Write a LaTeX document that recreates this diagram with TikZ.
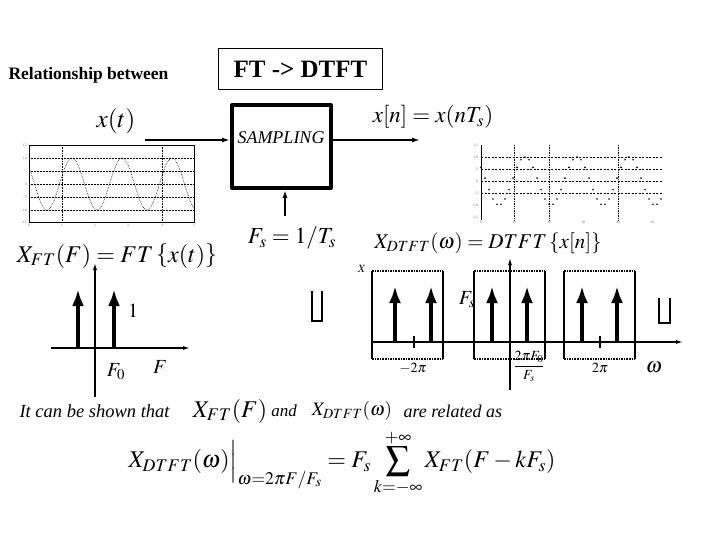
\documentclass[tikz,border=0pt]{standalone}
\usepackage{amsmath}
\usepackage{mathptmx}
\usepackage{fontspec}
\setmainfont{Liberation Serif}
\usetikzlibrary{arrows.meta}

\tikzset{
  bigmath/.style={font=\fontsize{23}{25}\selectfont},
  notetext/.style={font=\itshape\fontsize{17}{19}\selectfont},
  impulse/.style={line width=3.6pt,-{Latex[length=17pt,width=12pt]}},
  axisarrow/.style={line width=1.2pt,-{Latex[length=7pt,width=4pt]}},
  flow/.style={line width=1.8pt,-{Latex[length=8pt,width=5pt]}},
  ticklbl/.style={font=\fontsize{3.5}{4}\selectfont,text=black!60,inner sep=0pt},
  cupsym/.style={line width=2.4pt,line cap=butt,line join=miter}
}

\begin{document}
\begin{tikzpicture}[x=1pt,y=-1pt,line join=round]
  \useasboundingbox (0,0) rectangle (720,540);
  \node[anchor=west,font=\bfseries\fontsize{17.5}{19}\selectfont] (rel) at (5,75) {Relationship between};
  \node[draw,line width=1.3pt,minimum width=164pt,minimum height=41pt,font=\bfseries\fontsize{25}{27}\selectfont] (ttl) at (300.5,69) {FT -> DTFT};
  \node[draw,line width=4pt,minimum width=99pt,minimum height=83pt] (samp) at (281.5,146.5) {};
  \node[font=\itshape\fontsize{18}{20}\selectfont] (samplbl) at (281,138) {SAMPLING};
  \coordinate (xin) at (145,140);
  \coordinate (xout) at (420,140);
  \coordinate (fsin) at (285,216);
  \draw[flow] (xin) -- (samp.west |- xin);
  \draw[flow] (samp.east |- xout) -- (xout);
  \draw[flow] (fsin) -- (fsin |- samp.south);
  \node[bigmath,font=\fontsize{25}{27}\selectfont] (xt) at (116,121) {$x(t)$};
  \node[bigmath] (xn) at (433,117) {$x[n]=x(nT_s)$};
  \node[bigmath] (fs) at (292,238) {$F_s=1/T_s$};
  % continuous signal
  \draw[line width=0.6pt] (29,145) rectangle (194,222);
  \foreach \yy in {158,171,184,197,210}
    \draw[densely dotted,line width=0.5pt] (29,\yy) -- (194,\yy);
  \foreach \xx in {62,162}
    \draw[densely dotted,line width=0.6pt] (\xx,145) -- (\xx,222);
  \draw[line width=0.6pt,densely dotted] plot[domain=29:194,samples=140,smooth] (\x,{184-26*cos(7.2*(\x-72))});
  \foreach \yy/\lb in {145/1.5,158/1.0,171/.5,184/0,197/-.5,210/-1.0,222/-1.5}
    \node[ticklbl,anchor=east] at (27,\yy) {\lb};
  \foreach \xx/\lb in {29/0,62/1,95/2,128/3,162/4,194/5}
    \node[ticklbl,anchor=north] at (\xx,224) {\lb};
  % sampled signal
  \draw[line width=0.9pt] (481,145) -- (481,220);
  \foreach \yy in {157,169,181,193}
    \draw[dashed,line width=0.5pt,dash pattern=on 2pt off 1.5pt] (481,\yy) -- (663,\yy);
  \foreach \xx in {514,549,618}
    \draw[densely dotted,line width=0.7pt] (\xx,145) -- (\xx,220);
  \foreach \k in {0,...,45}
    \fill ({481+4*\k},{181-24*cos(6.923*(4*\k-44))}) circle (0.9pt);
  \foreach \yy/\lb in {145/1.5,157/1.0,169/.5,181/0,193/-.5,205/-1.0,217/-1.5}
    \node[ticklbl,anchor=east] at (478,\yy) {\lb};
  \foreach \xx/\lb in {481/0,514/10,549/20,583/30,618/40,652/50}
    \node[ticklbl,anchor=north] at (\xx,221) {\lb};
  % FT spectrum
  \node[bigmath,font=\fontsize{24}{26}\selectfont] (xft) at (117,256) {$X_{FT}(F)=FT\left\{x(t)\right\}$};
  \coordinate (fo) at (95,348);
  \draw[axisarrow] (51,348) -- (190,348);
  \draw[axisarrow] (95,397) -- (95,263);
  \draw[impulse] (78,348) -- (78,289);
  \draw[impulse] (114,348) -- (114,289);
  \node[bigmath,font=\fontsize{20}{22}\selectfont] (one) at (133,311) {$1$};
  \node[bigmath,font=\fontsize{20}{22}\selectfont] (f0) at (116,372) {$F_0$};
  \node[bigmath,font=\fontsize{20}{22}\selectfont] (fax) at (160,367) {$F$};
  \draw[cupsym] (312,291) -- (312,321) -- (322,321) -- (322,291);
  % DTFT spectrum
  \node[bigmath,font=\fontsize{21}{23}\selectfont] (xdtft) at (488,243) {$X_{DTFT}(\omega)=DTFT\left\{x[n]\right\}$};
  \node[font=\itshape\fontsize{11}{12}\selectfont] (xcut) at (362,269) {$X$};
  \node[bigmath,font=\fontsize{20}{22}\selectfont] (fsb) at (467,300) {$F_s$};
  \foreach \bx in {372,474,564} {
    \draw[line width=1.6pt] (\bx,271) -- (\bx,359);
    \draw[line width=1.6pt] (\bx+71,271) -- (\bx+71,359);
    \draw[line width=1.6pt,densely dotted] (\bx,271) -- (\bx+71,271);
    \draw[line width=1.6pt,densely dotted] (\bx,359) -- (\bx+71,359);
  }
  \draw[axisarrow] (372,342) -- (683,342);
  \draw[axisarrow] (510,390) -- (510,258);
  \foreach \ix in {395,431,492,527,582,617}
    \draw[impulse] (\ix,342) -- (\ix,286);
  \draw[line width=1.2pt] (414,336) -- (414,348);
  \draw[line width=1.2pt] (600,336) -- (600,348);
  \node[font=\fontsize{14}{15}\selectfont] (m2pi) at (413,368) {$-2\pi$};
  \node[font=\fontsize{14}{15}\selectfont] (p2pi) at (600,368) {$2\pi$};
  \node[font=\fontsize{14}{15}\selectfont] (frac) at (529,366) {$\dfrac{2\pi F_0}{F_s}$};
  \node[bigmath,font=\fontsize{21}{23}\selectfont] (om) at (654,367) {$\omega$};
  \draw[cupsym] (659,298) -- (659,323) -- (670,323) -- (670,298);
  % relation
  \node[anchor=west,notetext,font=\itshape\fontsize{18.5}{20}\selectfont] (cbs) at (16,411) {It can be shown that};
  \node[bigmath,font=\fontsize{24}{26}\selectfont] (xft2) at (230,411) {$X_{FT}(F)$};
  \node[notetext] (and) at (284,411) {and};
  \node[bigmath,font=\fontsize{19}{21}\selectfont] (xdt2) at (352,411) {$X_{DTFT}(\omega)$};
  \node[anchor=west,notetext,font=\itshape\fontsize{18}{20}\selectfont] (rel2) at (400,411) {are related as};
  \node[font=\fontsize{24}{27}\selectfont] (eqn) at (342,463)
    {$\displaystyle X_{DTFT}(\omega)\Big|_{\omega=2\pi F/F_s}=F_s\sum_{k=-\infty}^{+\infty}X_{FT}(F-kF_s)$};
\end{tikzpicture}
\end{document}
